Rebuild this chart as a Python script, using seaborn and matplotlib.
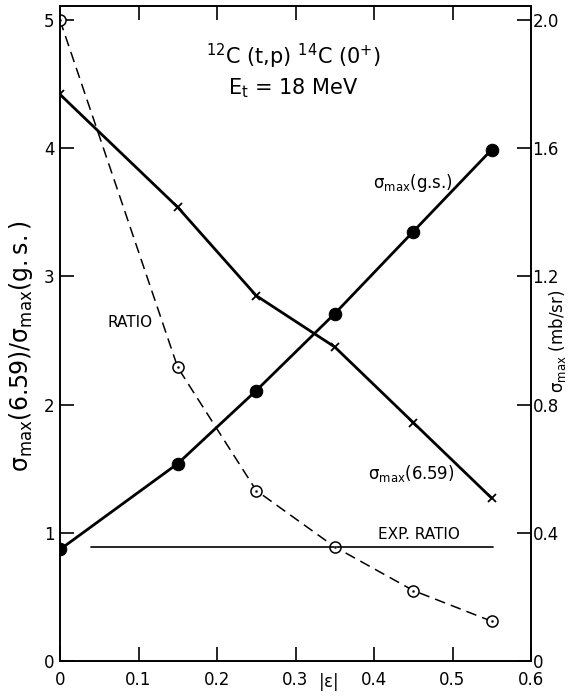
import numpy as np
import pandas as pd
import matplotlib
matplotlib.use("Agg")
import matplotlib.pyplot as plt
import seaborn as sns

# data
eps = [0.0, 0.15, 0.25, 0.35, 0.45, 0.55]
ratio = [5.0, 2.29, 1.33, 0.89, 0.55, 0.31]
sig_gs = [0.348, 0.616, 0.844, 1.084, 1.34, 1.596]      # mb/sr
sig_659 = [1.768, 1.416, 1.14, 0.98, 0.744, 0.508]     # mb/sr
exp_ratio = 0.89
exp_range = [0.04, 0.552]

left_ticks = [0, 1, 2, 3, 4, 5]
right_ticks = [0, 0.4, 0.8, 1.2, 1.6, 2.0]
right_ticklabels = ["0", "0.4", "0.8", "1.2", "1.6", "2.0"]
x_ticks = [0, 0.1, 0.2, 0.3, 0.4, 0.5, 0.6]
x_ticklabels = ["0", "0.1", "0.2", "0.3", "0.4", "0.5", "0.6"]

sns.set_style("ticks")
plt.rcParams['font.family'] = ['DejaVu Sans']
plt.rcParams['mathtext.default'] = 'regular'
plt.rcParams['text.color'] = 'black'
plt.rcParams['axes.labelcolor'] = 'black'
plt.rcParams['xtick.color'] = 'black'
plt.rcParams['ytick.color'] = 'black'
plt.rcParams['axes.edgecolor'] = 'black'

fig = plt.figure(figsize=(5.71, 6.96), dpi=100)
ax = fig.add_axes([60/571, 35/696, 471/571, 655/696])
ax2 = ax.twinx()

df = pd.DataFrame({"eps": eps, "ratio": ratio, "gs": sig_gs, "s659": sig_659})

# ratio: dashed, open circles with a dot
sns.lineplot(data=df, x="eps", y="ratio", ax=ax, color="black", lw=1.1,
             linestyle=(0, (7, 4)), marker="o", markersize=8,
             markerfacecolor="white", markeredgecolor="black", markeredgewidth=1.1)
sns.scatterplot(data=df, x="eps", y="ratio", ax=ax, color="black", s=4, zorder=5)

# experimental ratio
ax.plot(exp_range, [exp_ratio, exp_ratio], color="black", lw=1.2)

# cross sections on right axis
sns.lineplot(data=df, x="eps", y="gs", ax=ax2, color="black", lw=2.0,
             marker="o", markersize=9, markerfacecolor="black", markeredgecolor="black")
sns.lineplot(data=df, x="eps", y="s659", ax=ax2, color="black", lw=2.0,
             marker="x", markersize=6, markeredgewidth=1.3, markeredgecolor="black")

ax.set_xlim(0, 0.6)
ax.set_ylim(0, 5.11)
ax2.set_ylim(0, 5.11 / 2.5)

ax.set_xticks(x_ticks)
ax.set_xticklabels(x_ticklabels)
ax.set_yticks(left_ticks)
ax2.set_yticks(right_ticks)
ax2.set_yticklabels(right_ticklabels)

for a in (ax, ax2):
    for s in a.spines.values():
        s.set_visible(True)
        s.set_linewidth(1.2)
ax.tick_params(axis="both", direction="in", length=10, width=1.2, labelsize=12,
               top=True, pad=4)
ax.tick_params(axis="x", labeltop=False, pad=7)
ax2.tick_params(axis="y", direction="in", length=10, width=1.2, labelsize=12, pad=1)

ax.set_xlabel("")
ax.text(0.57, -0.032, r"$|\epsilon|$", fontsize=12, ha="center", va="center",
        transform=ax.transAxes)
ax.set_ylabel(r"$\sigma_{max}(6.59)/\sigma_{max}(g.s.)$", fontsize=17)
ax.yaxis.label.set_va("center")
ax.yaxis.set_label_coords(-0.083, 0.48)
ax2.set_ylabel(r"$\sigma_{max}$ (mb/sr)", fontsize=12)
ax2.yaxis.label.set_va("center")
ax2.yaxis.set_label_coords(1.057, 0.488)

ax.text(0.297, 4.72, r"$^{12}$C (t,p) $^{14}$C (0$^{+}$)", fontsize=15,
        ha="center", va="center")
ax.text(0.297, 4.47, r"E$_{t}$ = 18 MeV", fontsize=15, ha="center", va="center")
ax.text(0.449, 3.73, r"$\sigma_{max}$(g.s.)", fontsize=12, ha="center", va="center")
ax.text(0.447, 1.46, r"$\sigma_{max}$(6.59)", fontsize=12, ha="center", va="center")
ax.text(0.089, 2.64, "RATIO", fontsize=11, ha="center", va="center")
ax.text(0.457, 0.99, "EXP. RATIO", fontsize=11, ha="center", va="center")

fig.savefig("out.png", dpi=100)
